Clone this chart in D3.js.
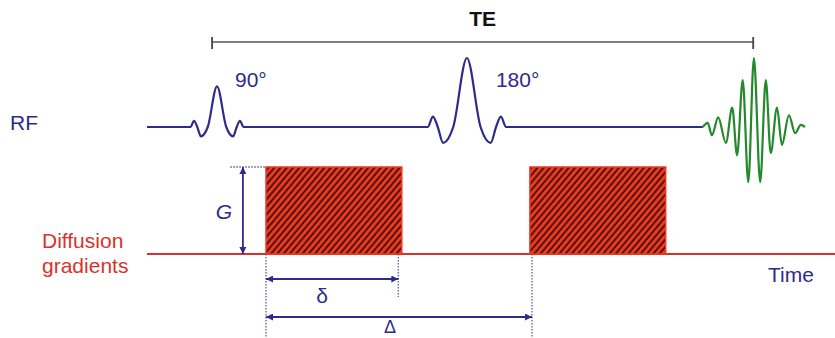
<!DOCTYPE html>
<html>
<head>
<meta charset="utf-8">
<script src="https://cdn.jsdelivr.net/npm/d3@7"></script>
<style>
body { margin: 0; background: #fff; }
svg { display: block; }
text { font-family: "Liberation Sans", Arial, sans-serif; }
</style>
</head>
<body>
<svg width="835" height="338"></svg>
<script>
// time runs 0..100 (arbitrary units)
var rfStart = 1.0;
var pulseLabels = ["90°", "180°"];
var pulseTimes = [11.0, 46.7];
var pulseAmps = [0.59, 1.0];
var pulseWidths = [1.15, 1.7];

// sinc-like RF pulse: offset in lobe widths, relative amplitude
var sincOffsets = [-3.3, -2.85, -2.45, -2.0, -1.15, 0, 1.15, 2.0, 2.45, 2.85, 3.3];
var sincValues  = [0, 0.15, 0, -0.23, 0, 1, 0, -0.23, 0, 0.15, 0];

// spin echo: extrema of the green signal
var echoTimes  = [80.4, 81.1, 81.7, 82.6, 83.7, 84.6, 85.3, 86.1, 86.9, 87.7, 88.6, 89.4, 90.1, 91.0, 91.7, 92.7, 93.6, 94.4, 95.0];
var echoValues = [0, 0.06, -0.12, 0.14, -0.23, 0.28, -0.41, 0.68, -0.80, 1.0, -0.80, 0.68, -0.38, 0.28, -0.26, 0.17, -0.09, 0.03, 0];

var gradStarts = [18.0, 55.7];
var gradEnds = [37.4, 75.1];
var gradAmp = 1;

var teSpan = [10.3, 87.6];
var smallDelta = [18.0, 36.9];
var bigDelta = [18.0, 56.0];
var gLevel = [12.9, 14.7];   // start of dotted guide, position of G arrow
var timeEnd = 100;

var blue = "#2e2b8c", green = "#23892b", red = "#d8332a", fillRed = "#ec3a22";

var svg = d3.select("svg");

var x = d3.scaleLinear().domain([0, 100]).range([140, 840]);
var yRF = d3.scaleLinear().domain([-1, 1]).range([196, 58]);
var yG = d3.scaleLinear().domain([0, 1]).range([254, 167]);

var defs = svg.append("defs");

var pat = defs.append("pattern")
    .attr("id", "hatch")
    .attr("patternUnits", "userSpaceOnUse")
    .attr("width", 4.8)
    .attr("height", 10)
    .attr("patternTransform", "rotate(40)");
pat.append("rect").attr("width", 4.8).attr("height", 10).attr("fill", fillRed);
pat.append("line")
    .attr("x1", 1.2).attr("x2", 1.2).attr("y1", 0).attr("y2", 10)
    .attr("stroke", "#2b0805").attr("stroke-width", 1.6);

defs.append("marker")
    .attr("id", "arrow")
    .attr("viewBox", "0 0 10 10")
    .attr("refX", 10).attr("refY", 5)
    .attr("markerUnits", "userSpaceOnUse")
    .attr("markerWidth", 9).attr("markerHeight", 7)
    .attr("orient", "auto-start-reverse")
    .append("path")
    .attr("d", "M0,0 L10,5 L0,10 Z")
    .attr("fill", blue);

// TE bracket
svg.append("line")
    .attr("x1", x(teSpan[0])).attr("x2", x(teSpan[1]))
    .attr("y1", 42).attr("y2", 42)
    .attr("stroke", "#555").attr("stroke-width", 1.6);
svg.selectAll(".te-tick")
    .data(teSpan)
    .enter().append("line")
    .attr("class", "te-tick")
    .attr("x1", function(d) { return x(d); })
    .attr("x2", function(d) { return x(d); })
    .attr("y1", 37).attr("y2", 49)
    .attr("stroke", "#444").attr("stroke-width", 1.8);
svg.append("text")
    .attr("x", x((teSpan[0] + teSpan[1]) / 2))
    .attr("y", 26)
    .attr("text-anchor", "middle")
    .attr("font-weight", "bold")
    .attr("font-size", 21)
    .attr("fill", "#111")
    .text("TE");

// RF line with the two pulses
var rfPoints = [[rfStart, 0]];
pulseTimes.forEach(function(t, i) {
    sincOffsets.forEach(function(u, j) {
        rfPoints.push([t + u * pulseWidths[i], sincValues[j] * pulseAmps[i]]);
    });
});
rfPoints.push([echoTimes[0], 0]);

var line = d3.line()
    .x(function(d) { return x(d[0]); })
    .y(function(d) { return yRF(d[1]); })
    .curve(d3.curveMonotoneX);

svg.append("path")
    .attr("d", line(rfPoints))
    .attr("fill", "none")
    .attr("stroke", blue)
    .attr("stroke-width", 2.2);

svg.append("path")
    .attr("d", line(echoTimes.map(function(t, i) { return [t, echoValues[i]]; })))
    .attr("fill", "none")
    .attr("stroke", green)
    .attr("stroke-width", 2.2);

svg.selectAll(".pulse-label")
    .data(pulseLabels)
    .enter().append("text")
    .attr("class", "pulse-label")
    .attr("x", function(d, i) { return x(pulseTimes[i]) + (i == 0 ? 18 : 29); })
    .attr("y", 87)
    .attr("font-size", 21)
    .attr("fill", blue)
    .text(function(d) { return d; });

svg.append("text")
    .attr("x", 10).attr("y", 130)
    .attr("font-size", 21)
    .attr("fill", blue)
    .text("RF");

// diffusion gradients
svg.append("line")
    .attr("x1", x(rfStart)).attr("x2", x(timeEnd))
    .attr("y1", yG(0)).attr("y2", yG(0))
    .attr("stroke", red).attr("stroke-width", 2);

svg.selectAll(".grad")
    .data(gradStarts)
    .enter().append("rect")
    .attr("class", "grad")
    .attr("x", function(d) { return x(d); })
    .attr("y", yG(gradAmp))
    .attr("width", function(d, i) { return x(gradEnds[i]) - x(d); })
    .attr("height", yG(0) - yG(gradAmp))
    .attr("fill", "url(#hatch)")
    .attr("stroke", fillRed)
    .attr("stroke-width", 1.5);

svg.append("text").attr("x", 42).attr("y", 248)
    .attr("font-size", 21).attr("fill", red).text("Diffusion");
svg.append("text").attr("x", 42).attr("y", 273)
    .attr("font-size", 21).attr("fill", red).text("gradients");
svg.append("text").attr("x", 768).attr("y", 282)
    .attr("font-size", 21).attr("fill", blue).text("Time");

// dotted guides
var dotted = [
    [gLevel[0], yG(gradAmp), gradStarts[0], yG(gradAmp)],
    [smallDelta[0], yG(0), smallDelta[0], 338],
    [smallDelta[1], yG(0), smallDelta[1], 297],
    [bigDelta[1], yG(0), bigDelta[1], 338]
];
svg.selectAll(".guide")
    .data(dotted)
    .enter().append("line")
    .attr("class", "guide")
    .attr("x1", function(d) { return x(d[0]); })
    .attr("y1", function(d) { return d[1]; })
    .attr("x2", function(d) { return x(d[2]); })
    .attr("y2", function(d) { return d[3]; })
    .attr("stroke", "#5a5aa0")
    .attr("stroke-width", 1.3)
    .attr("stroke-dasharray", "1.5,1.5");

// arrows: G, delta, Delta
svg.append("line")
    .attr("x1", x(gLevel[1])).attr("x2", x(gLevel[1]))
    .attr("y1", yG(0)).attr("y2", yG(gradAmp))
    .attr("stroke", blue).attr("stroke-width", 1.8)
    .attr("marker-start", "url(#arrow)")
    .attr("marker-end", "url(#arrow)");

var spans = [[smallDelta, 279], [bigDelta, 317]];
svg.selectAll(".span-arrow")
    .data(spans)
    .enter().append("line")
    .attr("class", "span-arrow")
    .attr("x1", function(d) { return x(d[0][0]); })
    .attr("x2", function(d) { return x(d[0][1]); })
    .attr("y1", function(d) { return d[1]; })
    .attr("y2", function(d) { return d[1]; })
    .attr("stroke", blue).attr("stroke-width", 2)
    .attr("marker-start", "url(#arrow)")
    .attr("marker-end", "url(#arrow)");

svg.append("text")
    .attr("x", 224).attr("y", 219)
    .attr("text-anchor", "middle")
    .attr("font-style", "italic")
    .attr("font-size", 21)
    .attr("fill", blue)
    .text("G");

svg.append("text")
    .attr("x", 322).attr("y", 303)
    .attr("text-anchor", "middle")
    .attr("font-family", "'Liberation Serif', 'Times New Roman', serif")
    .attr("font-size", 21)
    .attr("fill", blue)
    .text("δ");

svg.append("text")
    .attr("x", 390).attr("y", 333)
    .attr("text-anchor", "middle")
    .attr("font-family", "'Liberation Serif', 'Times New Roman', serif")
    .attr("font-size", 18)
    .attr("fill", blue)
    .text("Δ");
</script>
</body>
</html>
